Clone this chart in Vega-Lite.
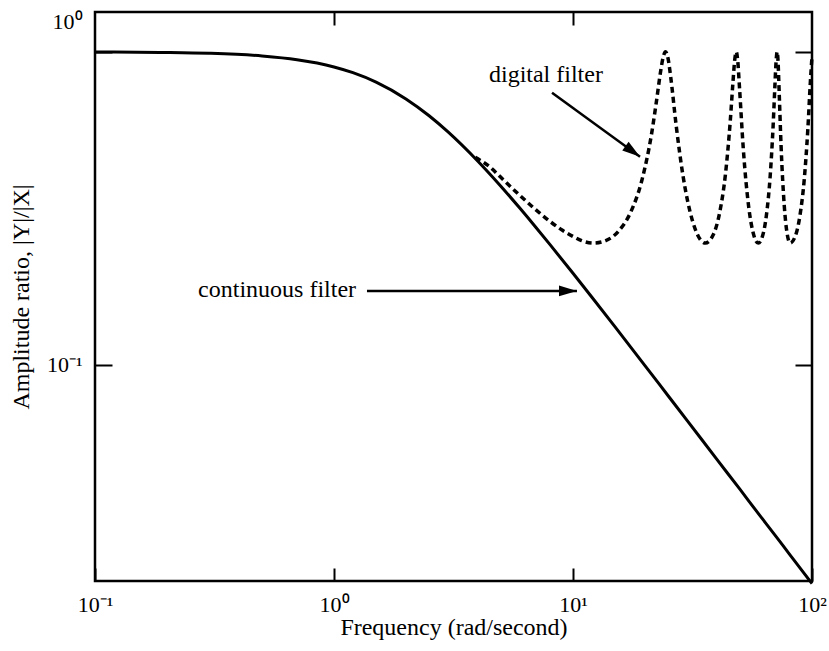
{
  "$schema": "https://vega.github.io/schema/vega-lite/v6.json",
  "width": 717,
  "height": 569,
  "autosize": {"type": "none"},
  "padding": {"left": 95, "top": 12, "right": 17, "bottom": 70},
  "background": "white",
  "config": {
    "view": {"stroke": "black", "strokeWidth": 2.5},
    "font": "Liberation Serif",
    "axis": {
      "domain": false,
      "grid": false,
      "labelFont": "Liberation Serif",
      "titleFont": "Liberation Serif",
      "labelColor": "black",
      "titleColor": "black",
      "tickColor": "black",
      "tickWidth": 2,
      "labelFontSize": 22,
      "titleFontSize": 24,
      "titleFontWeight": "normal"
    }
  },
  "datasets": {
    "continuous": [
      {"w": 0.1, "ar": 0.9988}, {"w": 0.15, "ar": 0.9972}, {"w": 0.2, "ar": 0.995}, {"w": 0.3, "ar": 0.9889},
      {"w": 0.5, "ar": 0.9701}, {"w": 0.7, "ar": 0.9439}, {"w": 0.85, "ar": 0.9203}, {"w": 1, "ar": 0.8944},
      {"w": 1.2, "ar": 0.8575}, {"w": 1.5, "ar": 0.8}, {"w": 2, "ar": 0.7071}, {"w": 2.5, "ar": 0.6247},
      {"w": 3, "ar": 0.5547}, {"w": 4, "ar": 0.4472}, {"w": 5, "ar": 0.3714}, {"w": 6, "ar": 0.3162},
      {"w": 7, "ar": 0.2747}, {"w": 8, "ar": 0.2425}, {"w": 10, "ar": 0.1961}, {"w": 12, "ar": 0.1644},
      {"w": 15, "ar": 0.1322}, {"w": 20, "ar": 0.0995}, {"w": 25, "ar": 0.0797}, {"w": 30, "ar": 0.0665},
      {"w": 40, "ar": 0.0499}, {"w": 50, "ar": 0.04}, {"w": 60, "ar": 0.0333}, {"w": 70, "ar": 0.0286},
      {"w": 80, "ar": 0.025}, {"w": 100, "ar": 0.02}
    ],
    "digital": [
      {"w": 3.9, "ar": 0.46}, {"w": 4.5, "ar": 0.4281}, {"w": 5, "ar": 0.3964}, {"w": 6, "ar": 0.3475},
      {"w": 7, "ar": 0.3126}, {"w": 8, "ar": 0.2875}, {"w": 9, "ar": 0.2696}, {"w": 10, "ar": 0.2572},
      {"w": 10.86, "ar": 0.2494}, {"w": 12.2, "ar": 0.2449}, {"w": 13.59, "ar": 0.2487}, {"w": 15.53, "ar": 0.2677},
      {"w": 17.48, "ar": 0.3088}, {"w": 19.42, "ar": 0.3889}, {"w": 21.36, "ar": 0.5519}, {"w": 22.33, "ar": 0.6921},
      {"w": 23.3, "ar": 0.873}, {"w": 23.79, "ar": 0.9544}, {"w": 24.4, "ar": 1.0}, {"w": 24.96, "ar": 0.9565},
      {"w": 25.64, "ar": 0.8295}, {"w": 27.0, "ar": 0.5844}, {"w": 28.82, "ar": 0.4043}, {"w": 31.54, "ar": 0.2904},
      {"w": 33.35, "ar": 0.2586}, {"w": 35.8, "ar": 0.2449}, {"w": 38.56, "ar": 0.2597}, {"w": 41.03, "ar": 0.3051},
      {"w": 43.5, "ar": 0.4105}, {"w": 45.47, "ar": 0.5969}, {"w": 46.71, "ar": 0.8018}, {"w": 47.45, "ar": 0.9353},
      {"w": 48.2, "ar": 1.0}, {"w": 48.87, "ar": 0.94}, {"w": 49.77, "ar": 0.7614}, {"w": 51.59, "ar": 0.4895},
      {"w": 54.31, "ar": 0.3208}, {"w": 57.03, "ar": 0.2601}, {"w": 59.6, "ar": 0.2449}, {"w": 62.13, "ar": 0.2583},
      {"w": 64.49, "ar": 0.3016}, {"w": 66.86, "ar": 0.4024}, {"w": 68.76, "ar": 0.5804}, {"w": 69.94, "ar": 0.777},
      {"w": 70.74, "ar": 0.9302}, {"w": 71.5, "ar": 1.0}, {"w": 72.11, "ar": 0.9298}, {"w": 72.86, "ar": 0.7493},
      {"w": 74.22, "ar": 0.5021}, {"w": 76.49, "ar": 0.3252}, {"w": 78.76, "ar": 0.2616}, {"w": 81.0, "ar": 0.2449},
      {"w": 85.0, "ar": 0.2569}, {"w": 88.95, "ar": 0.2983}, {"w": 92.9, "ar": 0.3947}, {"w": 96.05, "ar": 0.5641},
      {"w": 98.42, "ar": 0.7991}, {"w": 100, "ar": 0.9672}
    ],
    "arrows": [
      {"name": "digital", "x1": 8.17, "y1": 0.74, "x2": 19.07, "y2": 0.462},
      {"name": "continuous", "x1": 1.374, "y1": 0.1723, "x2": 10.39, "y2": 0.1723}
    ],
    "labels": [
      {"label": "digital filter", "w": 4.45, "ar": 0.844},
      {"label": "continuous filter", "w": 0.27, "ar": 0.1736}
    ]
  },
  "layer": [
    {
      "data": {"name": "continuous"},
      "mark": {"type": "line", "color": "black", "strokeWidth": 3, "interpolate": "monotone"},
      "encoding": {
        "x": {
          "field": "w", "type": "quantitative",
          "scale": {"type": "log", "domain": [0.1, 100], "nice": false},
          "axis": {
            "orient": "bottom", "values": [0.1, 1, 10, 100],
            "labelExpr": "datum.value < 0.5 ? '10⁻¹' : datum.value < 5 ? '10⁰' : datum.value < 50 ? '10¹' : '10²'",
            "tickSize": -13, "labelPadding": 26, "labelFlush": false, "labelOverlap": false,
            "title": "Frequency (rad/second)", "titlePadding": 0
          }
        },
        "y": {
          "field": "ar", "type": "quantitative",
          "scale": {"type": "log", "domain": [0.0204, 1.34], "nice": false},
          "axis": {
            "orient": "left", "values": [0.1, 1],
            "labelExpr": "datum.value > 0.5 ? '10⁰' : '10⁻¹'",
            "tickSize": -17, "labelPadding": 30, "labelOverlap": false,
            "labelOffset": {"condition": {"test": "datum.value > 0.5", "value": -30}, "value": 0},
            "title": "Amplitude ratio, |Y|/|X|", "titleX": -67, "titleBaseline": "alphabetic"
          }
        }
      }
    },
    {
      "data": {"name": "digital"},
      "mark": {"type": "line", "color": "black", "strokeWidth": 3.5, "strokeDash": [6, 4], "interpolate": "monotone"},
      "encoding": {
        "x": {
          "field": "w", "type": "quantitative",
          "scale": {"type": "log", "domain": [0.1, 100], "nice": false},
          "axis": {"orient": "top", "values": [1, 10], "labels": false, "tickSize": -13, "title": null}
        },
        "y": {
          "field": "ar", "type": "quantitative",
          "scale": {"type": "log", "domain": [0.0204, 1.34], "nice": false},
          "axis": {"orient": "right", "values": [0.1, 1], "labels": false, "tickSize": -17, "title": null}
        }
      }
    },
    {
      "data": {"name": "arrows"},
      "mark": {"type": "rule", "color": "black", "strokeWidth": 2.5},
      "encoding": {
        "x": {"field": "x1", "type": "quantitative", "scale": {"type": "log", "domain": [0.1, 100], "nice": false}, "axis": null},
        "x2": {"field": "x2"},
        "y": {"field": "y1", "type": "quantitative", "scale": {"type": "log", "domain": [0.0204, 1.34], "nice": false}, "axis": null},
        "y2": {"field": "y2"}
      }
    },
    {
      "data": {"name": "arrows"},
      "transform": [{"filter": "datum.name == 'continuous'"}],
      "mark": {"type": "point", "shape": "M0,0 L-2,-0.6 L-2,0.6 Z", "size": 324, "filled": true, "color": "black", "opacity": 1, "angle": 0},
      "encoding": {
        "x": {"field": "x2", "type": "quantitative", "scale": {"type": "log", "domain": [0.1, 100], "nice": false}, "axis": null},
        "y": {"field": "y2", "type": "quantitative", "scale": {"type": "log", "domain": [0.0204, 1.34], "nice": false}, "axis": null}
      }
    },
    {
      "data": {"name": "arrows"},
      "transform": [{"filter": "datum.name == 'digital'"}],
      "mark": {"type": "point", "shape": "M0,0 L-2,-0.6 L-2,0.6 Z", "size": 324, "filled": true, "color": "black", "opacity": 1, "angle": 36},
      "encoding": {
        "x": {"field": "x2", "type": "quantitative", "scale": {"type": "log", "domain": [0.1, 100], "nice": false}, "axis": null},
        "y": {"field": "y2", "type": "quantitative", "scale": {"type": "log", "domain": [0.0204, 1.34], "nice": false}, "axis": null}
      }
    },
    {
      "data": {"name": "labels"},
      "mark": {"type": "text", "align": "left", "baseline": "middle", "font": "Liberation Serif", "fontSize": 24, "color": "black"},
      "encoding": {
        "x": {"field": "w", "type": "quantitative", "scale": {"type": "log", "domain": [0.1, 100], "nice": false}, "axis": null},
        "y": {"field": "ar", "type": "quantitative", "scale": {"type": "log", "domain": [0.0204, 1.34], "nice": false}, "axis": null},
        "text": {"field": "label", "type": "nominal"}
      }
    }
  ],
  "resolve": {"axis": {"x": "independent", "y": "independent"}}
}
